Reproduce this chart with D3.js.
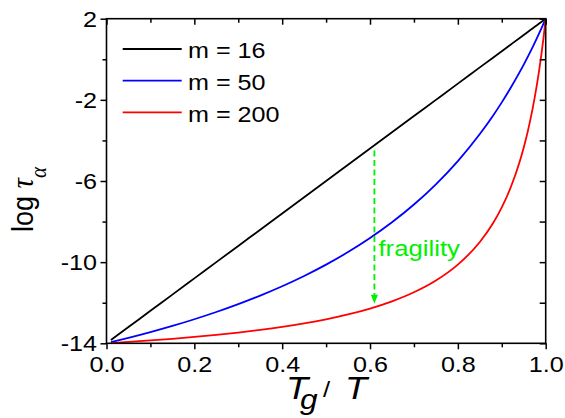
<!DOCTYPE html>
<html>
<head>
<meta charset="utf-8">
<script src="https://cdn.jsdelivr.net/npm/d3@7"></script>
<style>
  html, body { margin: 0; padding: 0; background: #fff; }
  svg { display: block; }
  text { font-family: "Liberation Sans", Arial, sans-serif; fill: #000; }
</style>
</head>
<body>
<svg id="chart" width="565" height="418"></svg>
<script>
// Reduced temperature Tg/T
const xs = [0.01, 0.05, 0.1, 0.15, 0.2, 0.25, 0.3, 0.35, 0.4, 0.45, 0.5, 0.55, 0.6, 0.65,
            0.7, 0.75, 0.8, 0.85, 0.88, 0.9, 0.92, 0.94, 0.95, 0.96, 0.97, 0.98, 0.985,
            0.99, 0.995, 1.0];

// log tau_alpha for three fragility indices
const m16 = [-13.84, -13.2, -12.4, -11.6, -10.8, -10.0, -9.2, -8.4, -7.6, -6.8, -6.0, -5.2,
             -4.4, -3.6, -2.8, -2.0, -1.2, -0.4, 0.08, 0.4, 0.72, 1.04, 1.2, 1.36, 1.52,
             1.68, 1.76, 1.84, 1.92, 2.0];
const m50 = [-13.948, -13.735, -13.451, -13.145, -12.815, -12.458, -12.070, -11.648, -11.187,
             -10.680, -10.121, -9.502, -8.811, -8.036, -7.160, -6.163, -5.018, -3.687, -2.781,
             -2.124, -1.419, -0.661, -0.260, 0.157, 0.590, 1.041, 1.273, 1.510, 1.753, 2.0];
const m200 = [-13.987, -13.933, -13.859, -13.777, -13.686, -13.584, -13.470, -13.339, -13.190,
              -13.017, -12.815, -12.575, -12.286, -11.930, -11.483, -10.903, -10.121, -9.009,
              -8.084, -7.302, -6.333, -5.101, -4.349, -3.479, -2.461, -1.252, -0.559, 0.206,
              1.054, 2.0];

const seriesNames = ["m = 16", "m = 50", "m = 200"];
const seriesColors = ["#000000", "#0000ff", "#ff0000"];
const seriesValues = [m16, m50, m200];

const xMajor = [0, 0.2, 0.4, 0.6, 0.8, 1.0];
const xMinor = [0.1, 0.3, 0.5, 0.7, 0.9];
const yMajor = [-14, -10, -6, -2, 2];
const yMinor = [-12, -8, -4, 0];

// Fragility arrow (Tg/T position, start and end in log tau)
const arrowX = 0.61;
const arrowFrom = -4.5;
const arrowTo = -12.05;
const arrowText = "fragility";

const svg = d3.select("#chart");
const plotL = 106.5, plotR = 545.7, plotT = 18.7, plotB = 343.3;
const SX = 1.17; // horizontal glyph stretch

const x = d3.scaleLinear().domain([0, 1]).range([plotL, plotR]);
const y = d3.scaleLinear().domain([-14, 2]).range([plotB, plotT]);

// Curves
const line = d3.line()
  .x(d => x(d[0]))
  .y(d => y(d[1]))
  .curve(d3.curveMonotoneX);

seriesValues.forEach((vals, i) => {
  svg.append("path")
    .datum(xs.map((v, k) => [v, vals[k]]))
    .attr("fill", "none")
    .attr("stroke", seriesColors[i])
    .attr("stroke-width", 1.8)
    .attr("d", line);
});

// Axes: ticks only, frame drawn separately
function styleAxis(g) {
  g.select(".domain").remove();
  g.selectAll(".tick line").attr("stroke", "#000").attr("stroke-width", 1.5);
}

const fmtX = d => d.toFixed(1);
const fmtY = d => String(d);

// bottom (outward)
const gB = svg.append("g").attr("transform", `translate(0,${plotB})`)
  .call(d3.axisBottom(x).tickValues(xMajor).tickSize(6).tickPadding(5).tickFormat(fmtX))
  .call(styleAxis);
svg.append("g").attr("transform", `translate(0,${plotB})`)
  .call(d3.axisBottom(x).tickValues(xMinor).tickSize(4).tickFormat(""))
  .call(styleAxis);
gB.selectAll(".tick text")
  .attr("font-size", 21.5).attr("font-family", "Liberation Sans, Arial, sans-serif")
  .attr("fill", "#000")
  .attr("dy", null).attr("y", 28.3)
  .attr("transform", `scale(${SX},1)`);

// left (outward)
const gL = svg.append("g").attr("transform", `translate(${plotL},0)`)
  .call(d3.axisLeft(y).tickValues(yMajor).tickSize(6).tickFormat(fmtY))
  .call(styleAxis);
svg.append("g").attr("transform", `translate(${plotL},0)`)
  .call(d3.axisLeft(y).tickValues(yMinor).tickSize(4).tickFormat(""))
  .call(styleAxis);
gL.selectAll(".tick text")
  .attr("font-size", 21.5).attr("font-family", "Liberation Sans, Arial, sans-serif")
  .attr("fill", "#000")
  .attr("dy", null).attr("y", 7.6)
  .attr("x", -9.5 / SX)
  .attr("transform", `scale(${SX},1)`);

// top (inward)
svg.append("g").attr("transform", `translate(0,${plotT})`)
  .call(d3.axisTop(x).tickValues(xMajor).tickSize(-6).tickFormat(""))
  .call(styleAxis);
svg.append("g").attr("transform", `translate(0,${plotT})`)
  .call(d3.axisTop(x).tickValues(xMinor).tickSize(-4).tickFormat(""))
  .call(styleAxis);

// right (inward)
svg.append("g").attr("transform", `translate(${plotR},0)`)
  .call(d3.axisRight(y).tickValues(yMajor).tickSize(-6).tickFormat(""))
  .call(styleAxis);
svg.append("g").attr("transform", `translate(${plotR},0)`)
  .call(d3.axisRight(y).tickValues(yMinor).tickSize(-6).tickFormat(""))
  .call(styleAxis);

// Frame
svg.append("rect")
  .attr("x", plotL).attr("y", plotT)
  .attr("width", plotR - plotL).attr("height", plotB - plotT)
  .attr("fill", "none").attr("stroke", "#000").attr("stroke-width", 1.6);

// Legend
const legendX0 = 122.7, legendX1 = 181.7, legendY0 = 49, legendStep = 31.7;
seriesNames.forEach((name, i) => {
  const ly = legendY0 + i * legendStep;
  svg.append("line")
    .attr("x1", legendX0).attr("x2", legendX1)
    .attr("y1", ly).attr("y2", ly)
    .attr("stroke", seriesColors[i]).attr("stroke-width", 1.8);
  svg.append("text")
    .attr("transform", `translate(188,${ly + 9.3}) scale(${SX},1)`)
    .attr("font-size", 21.5)
    .text(name);
});

// Fragility arrow
const ax = x(arrowX);
svg.append("line")
  .attr("x1", ax).attr("x2", ax)
  .attr("y1", y(arrowFrom)).attr("y2", y(arrowTo) - 8)
  .attr("stroke", "#00f000").attr("stroke-width", 1.8)
  .attr("stroke-dasharray", "6,3.5");
const tipY = y(arrowTo);
svg.append("path")
  .attr("d", `M${ax - 3.5},${tipY - 9} L${ax + 3.5},${tipY - 9} L${ax},${tipY} Z`)
  .attr("fill", "#00f000");
svg.append("text")
  .attr("transform", `translate(${ax + 4},256) scale(${SX},1)`)
  .attr("font-size", 22)
  .style("fill", "#00f000")
  .text(arrowText);

// Axis titles
const xt = svg.append("g");
xt.append("text").attr("transform", `translate(286,398.5) scale(${SX},1)`)
  .attr("font-size", 31).attr("font-style", "italic").text("T");
xt.append("text").attr("transform", `translate(300,409) scale(${SX},1)`)
  .attr("font-size", 27).attr("font-style", "italic").text("g");
xt.append("text").attr("transform", `translate(323,397) scale(${SX},1)`)
  .attr("font-size", 22).text("/");
xt.append("text").attr("transform", `translate(345,398.5) scale(${SX},1)`)
  .attr("font-size", 31).attr("font-style", "italic").text("T");

const yt = svg.append("text")
  .attr("transform", `translate(33,232) scale(1.1,1) rotate(-90)`)
  .attr("font-size", 27);
yt.append("tspan").text("log ");
yt.append("tspan")
  .style("font-family", "Liberation Serif, serif")
  .attr("font-style", "italic")
  .attr("font-size", 29)
  .text("τ");
yt.append("tspan")
  .style("font-family", "Liberation Serif, serif")
  .attr("font-style", "italic")
  .attr("font-size", 21)
  .attr("dy", 12)
  .text("α");
</script>
</body>
</html>
